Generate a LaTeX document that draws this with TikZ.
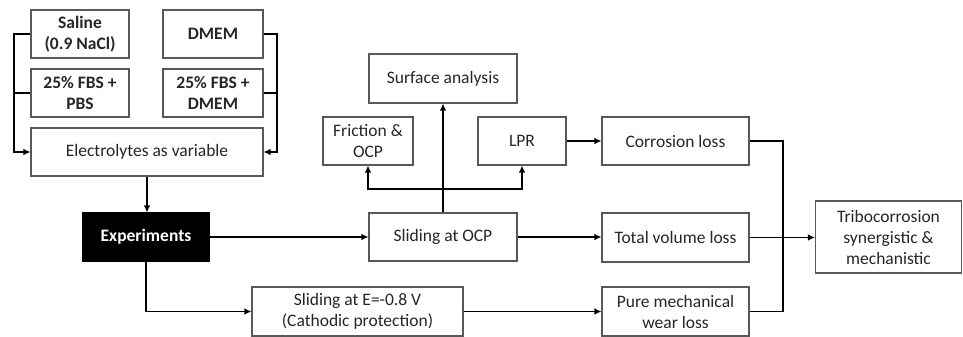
\documentclass[tikz,border=0pt]{standalone}
\usepackage{fontspec}
\setmainfont{Carlito}
\usetikzlibrary{arrows.meta}
\begin{document}
\begin{tikzpicture}[x=1pt,y=-1pt,
  box/.style={draw=black!65,line width=1.1pt,fill=white,align=center,inner sep=1pt,
    font=\fontsize{17.5}{21}\selectfont,text=black!85},
  bbox/.style={box,font=\fontsize{17.5}{21}\selectfont\bfseries},
  arr/.style={line width=1.2pt,-{Latex[length=7pt,width=6.5pt]}},
  ln/.style={line width=1.2pt}]
\useasboundingbox (0,0) rectangle (963,337);
\node[bbox,minimum width=98pt,minimum height=48pt] (saline) at (80,34) {Saline\\(0.9 NaCl)};
\node[bbox,minimum width=100pt,minimum height=48pt] (dmem) at (213,34) {DMEM};
\node[bbox,minimum width=98pt,minimum height=48pt] (fbspbs) at (80,93) {25\% FBS +\\PBS};
\node[bbox,minimum width=100pt,minimum height=48pt] (fbsdmem) at (213,93) {25\% FBS +\\DMEM};
\node[box,minimum width=232pt,minimum height=48pt] (elec) at (147,152) {Electrolytes as variable};
\node[bbox,fill=black,text=white,draw=black,minimum width=126pt,minimum height=48pt] (exp) at (146,237) {Experiments};
\node[box,minimum width=148pt,minimum height=48pt] (socp) at (443,237) {Sliding at OCP};
\node[box,minimum width=211pt,minimum height=49pt] (sle) at (357.5,311.5) {Sliding at E=-0.8 V\\(Cathodic protection)};
\node[box,minimum width=147pt,minimum height=49pt] (tvl) at (675.5,237.5) {Total volume loss};
\node[box,minimum width=147pt,minimum height=49pt] (pml) at (675.5,311.5) {Pure mechanical\\wear loss};
\node[box,minimum width=146pt,minimum height=72pt] (tribo) at (888.5,237) {Tribocorrosion\\synergistic \&\\mechanistic};
\node[box,minimum width=147pt,minimum height=48pt] (corr) at (675.5,141) {Corrosion loss};
\node[box,minimum width=88pt,minimum height=48pt] (lpr) at (522,141) {LPR};
\node[box,minimum width=90pt,minimum height=48pt] (fric) at (368,141) {Friction \&\\OCP};
\node[box,minimum width=148pt,minimum height=49pt] (surf) at (443,78.5) {Surface analysis};
\coordinate (lbus) at (14,0);
\coordinate (rbus) at (277,0);
\coordinate (obus) at (783,0);
\coordinate (br) at (443,189);
\draw[arr] (saline.west) -- (saline.west -| lbus) |- (elec.west);
\draw[ln] (fbspbs.west) -- (fbspbs.west -| lbus);
\draw[arr] (dmem.east) -- (dmem.east -| rbus) |- (elec.east);
\draw[ln] (fbsdmem.east) -- (fbsdmem.east -| rbus);
\draw[arr] (elec.south) -- (elec.south |- exp.north);
\draw[arr] (exp.east) -- (socp.west);
\draw[arr] (exp.south) |- (sle.west);
\draw[arr] (socp.north) -- (surf.south);
\draw[arr] (br) -| (fric.south);
\draw[arr] (br) -| (lpr.south);
\draw[arr] (lpr.east) -- (corr.west);
\draw[arr] (socp.east) -- (socp.east -| tvl.west);
\draw[arr] (sle.east) -- (sle.east -| pml.west);
\draw[ln] (corr.east) -- (corr.east -| obus) -- (pml.east -| obus) -- (pml.east);
\draw[arr] (tvl.east) -- (tvl.east -| tribo.west);
\end{tikzpicture}
\end{document}
